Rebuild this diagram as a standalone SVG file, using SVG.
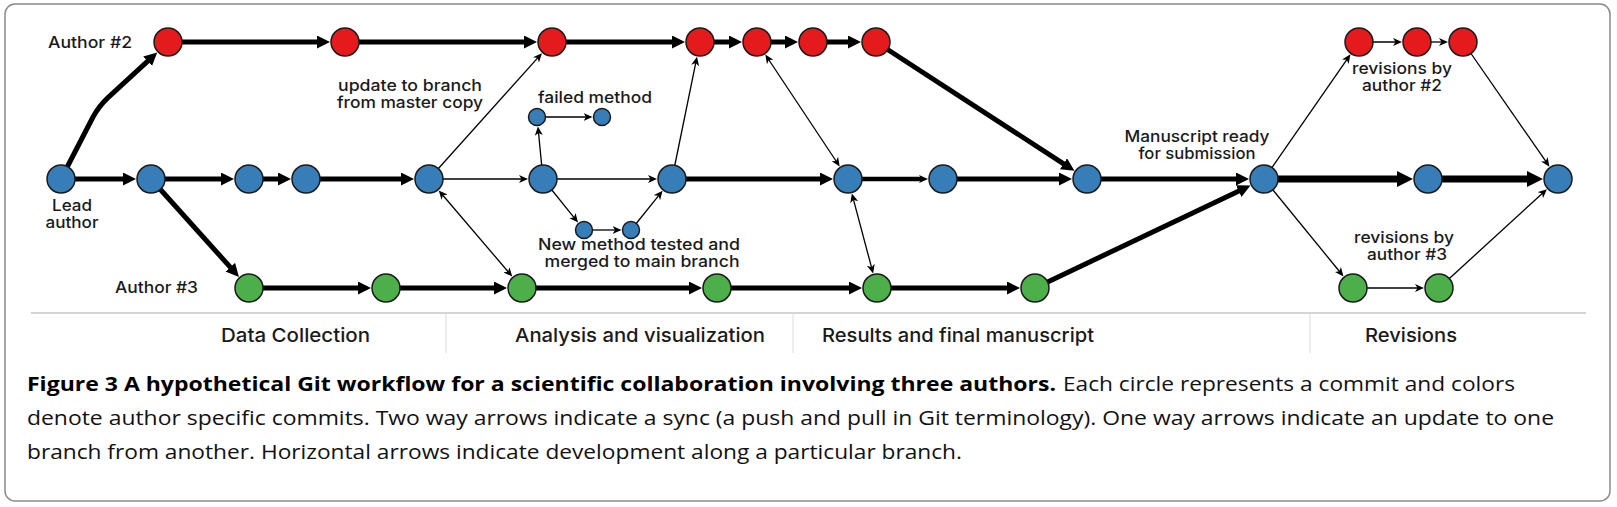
<svg xmlns="http://www.w3.org/2000/svg" width="1617" height="507" viewBox="0 0 1617 507">
<style>
.red{fill:#e41a1c;stroke:#1a1a1a;stroke-width:1.5}
.blue{fill:#377eb8;stroke:#1a1a1a;stroke-width:1.5}
.green{fill:#4daf4a;stroke:#1a1a1a;stroke-width:1.5}
.thick{fill:none;stroke:#000;stroke-width:5;marker-end:url(#ah)}
.xthick{fill:none;stroke:#000;stroke-width:7;marker-end:url(#ahx)}
.thin{fill:none;stroke:#000;stroke-width:1.3;marker-end:url(#at)}
.two{fill:none;stroke:#000;stroke-width:1.3;marker-start:url(#at);marker-end:url(#at)}
.lbl{font-family:Inter,"Liberation Sans",sans-serif;font-weight:500;font-size:16px;fill:#1a1a1a}
.sec{font-family:Inter,"Liberation Sans",sans-serif;font-weight:500;font-size:19px;fill:#1a1a1a;text-anchor:middle}
.cap{font-family:"Open Sans","Liberation Sans",sans-serif;font-size:20px;fill:#111}
.capb{font-family:"Open Sans","Liberation Sans",sans-serif;font-size:20px;font-weight:700;fill:#000}
.mid{text-anchor:middle}
</style>
<defs>
<marker id="ah" viewBox="0 0 13 13" refX="2" refY="6.5" markerWidth="13" markerHeight="13" markerUnits="userSpaceOnUse" orient="auto"><path d="M0,0 L13,6.5 L0,13 z" fill="#000"/></marker>
<marker id="ahx" viewBox="0 0 16 16" refX="2" refY="8" markerWidth="16" markerHeight="16" markerUnits="userSpaceOnUse" orient="auto"><path d="M0,0 L16,8 L0,16 z" fill="#000"/></marker>
<marker id="at" viewBox="0 0 9 8" refX="3" refY="4" markerWidth="9" markerHeight="8" markerUnits="userSpaceOnUse" orient="auto-start-reverse"><path d="M0,0 L9,4 L0,8 L2.5,4 z" fill="#000"/></marker>
</defs>
<rect x="0" y="0" width="1617" height="507" fill="#fff"/>
<rect id="frame" x="5" y="4" width="1605" height="497" rx="10" fill="#fff" stroke="#8a8a8a" stroke-width="1.5"/>

<g id="phases">
<line x1="31" y1="313" x2="1586" y2="313" stroke="#d4d4d4" stroke-width="2"/>
<line x1="446" y1="313" x2="446" y2="353" stroke="#dcdcdc" stroke-width="1"/>
<line x1="793" y1="313" x2="793" y2="353" stroke="#dcdcdc" stroke-width="1"/>
<line x1="1310" y1="313" x2="1310" y2="353" stroke="#dcdcdc" stroke-width="1"/>
<text class="sec" x="295.5" y="342" textLength="149" lengthAdjust="spacingAndGlyphs">Data Collection</text>
<text class="sec" x="640" y="342" textLength="250" lengthAdjust="spacingAndGlyphs">Analysis and visualization</text>
<text class="sec" x="958" y="342" textLength="272" lengthAdjust="spacingAndGlyphs">Results and final manuscript</text>
<text class="sec" x="1411" y="342" textLength="92" lengthAdjust="spacingAndGlyphs">Revisions</text>
</g>

<g id="connectors">
<path class="thick" d="M61,179 L93,117 Q99,106 108,97.6 L149.1,59.85"/>
<path class="thick" d="M168,42 H319"/>
<path class="thick" d="M345,42 H526"/>
<path class="thick" d="M552,42 H674"/>
<path class="thick" d="M700,42 H731"/>
<path class="thick" d="M757,42 H787"/>
<path class="thick" d="M813,42 H850"/>
<path class="thick" d="M876,42 L1065.2,164.8"/>
<path class="thick" d="M61,179 H125"/>
<path class="thick" d="M151,179 H223"/>
<path class="thick" d="M249,179 H280"/>
<path class="thick" d="M306,179 H403"/>
<path class="thick" d="M672,179 H822"/>
<path d="M848,179 H922" fill="none" stroke="#000" stroke-width="4.5" marker-end="url(#at)"/>
<path class="thick" d="M943,179 H1061"/>
<path class="thick" d="M1087,179 H1238"/>
<path class="xthick" d="M1264,179 H1399"/>
<path class="xthick" d="M1428,179 H1529"/>
<path class="thick" d="M151,179 L231.6,268.7"/>
<path class="thick" d="M249,288 H360"/>
<path class="thick" d="M386,288 H496"/>
<path class="thick" d="M522,288 H691"/>
<path class="thick" d="M717,288 H851"/>
<path class="thick" d="M877,288 H1009"/>
<path class="thick" d="M1035,288 L1240.5,190.2"/>
<path class="thin" d="M429,179 H522"/>
<path class="thin" d="M543,179 H651"/>
<path class="thin" d="M537,117 H586.5"/>
<path class="thin" d="M584,230 H615.5"/>
<path class="thin" d="M1359,42 H1396"/>
<path class="thin" d="M1417,42 H1442"/>
<path class="thin" d="M1353,288 H1418"/>
<path class="thin" d="M429,179 L537.97,57.63"/>
<path class="two" d="M442.63,194.97 L508.37,272.03"/>
<path class="thin" d="M543,179 L538.5,132.4"/>
<path class="thin" d="M543,179 L574.3,217.9"/>
<path class="thin" d="M631,230 L658.84,195.37"/>
<path class="thin" d="M672,179 L695.8,62.58"/>
<path class="two" d="M768.62,59.49 L836.38,161.51"/>
<path class="two" d="M853.4,199.3 L871.6,267.7"/>
<path class="thin" d="M1264,179 L1347.03,59.26"/>
<path class="thin" d="M1463,42 L1546.03,161.74"/>
<path class="thin" d="M1264,179 L1339.72,271.73"/>
<path class="thin" d="M1439,288 L1542.52,193.18"/>
</g>

<g id="r1"><circle class="red" cx="168" cy="42" r="14"/></g>
<g id="r2"><circle class="red" cx="345" cy="42" r="14"/></g>
<g id="r3"><circle class="red" cx="552" cy="42" r="14"/></g>
<g id="r4"><circle class="red" cx="700" cy="42" r="14"/></g>
<g id="r5"><circle class="red" cx="757" cy="42" r="14"/></g>
<g id="r6"><circle class="red" cx="813" cy="42" r="14"/></g>
<g id="r7"><circle class="red" cx="876" cy="42" r="14"/></g>
<g id="rr1"><circle class="red" cx="1359" cy="42" r="14"/></g>
<g id="rr2"><circle class="red" cx="1417" cy="42" r="14"/></g>
<g id="rr3"><circle class="red" cx="1463" cy="42" r="14"/></g>

<g id="b1"><circle class="blue" cx="61" cy="179" r="14"/></g>
<g id="b2"><circle class="blue" cx="151" cy="179" r="14"/></g>
<g id="b3"><circle class="blue" cx="249" cy="179" r="14"/></g>
<g id="b4"><circle class="blue" cx="306" cy="179" r="14"/></g>
<g id="b5"><circle class="blue" cx="429" cy="179" r="14"/></g>
<g id="b6"><circle class="blue" cx="543" cy="179" r="14"/></g>
<g id="b7"><circle class="blue" cx="672" cy="179" r="14"/></g>
<g id="b8"><circle class="blue" cx="848" cy="179" r="14"/></g>
<g id="b9"><circle class="blue" cx="943" cy="179" r="14"/></g>
<g id="b10"><circle class="blue" cx="1087" cy="179" r="14"/></g>
<g id="b11"><circle class="blue" cx="1264" cy="179" r="14"/></g>
<g id="b12"><circle class="blue" cx="1428" cy="179" r="14"/></g>
<g id="b13"><circle class="blue" cx="1558" cy="179" r="14"/></g>
<g id="s1"><circle class="blue" cx="537" cy="117" r="8.5"/></g>
<g id="s2"><circle class="blue" cx="602" cy="117" r="8.5"/></g>
<g id="s3"><circle class="blue" cx="584" cy="230" r="8.5"/></g>
<g id="s4"><circle class="blue" cx="631" cy="230" r="8.5"/></g>

<g id="g1"><circle class="green" cx="249" cy="288" r="14"/></g>
<g id="g2"><circle class="green" cx="386" cy="288" r="14"/></g>
<g id="g3"><circle class="green" cx="522" cy="288" r="14"/></g>
<g id="g4"><circle class="green" cx="717" cy="288" r="14"/></g>
<g id="g5"><circle class="green" cx="877" cy="288" r="14"/></g>
<g id="g6"><circle class="green" cx="1035" cy="288" r="14"/></g>
<g id="gr1"><circle class="green" cx="1353" cy="288" r="14"/></g>
<g id="gr2"><circle class="green" cx="1439" cy="288" r="14"/></g>

<g id="labels">
<text class="lbl" x="48" y="48" textLength="84" lengthAdjust="spacingAndGlyphs" font-weight="600">Author #2</text>
<text class="lbl mid" x="72" y="211" textLength="40" lengthAdjust="spacingAndGlyphs">Lead</text>
<text class="lbl mid" x="72" y="228" textLength="53" lengthAdjust="spacingAndGlyphs">author</text>
<text class="lbl" x="115" y="293" textLength="83" lengthAdjust="spacingAndGlyphs" font-weight="600">Author #3</text>
<text class="lbl mid" x="410" y="91" textLength="144" lengthAdjust="spacingAndGlyphs">update to branch</text>
<text class="lbl mid" x="410" y="108" textLength="146" lengthAdjust="spacingAndGlyphs">from master copy</text>
<text class="lbl mid" x="595" y="103" textLength="114" lengthAdjust="spacingAndGlyphs">failed method</text>
<text class="lbl mid" x="639" y="250" textLength="202" lengthAdjust="spacingAndGlyphs">New method tested and</text>
<text class="lbl mid" x="642" y="267" textLength="195" lengthAdjust="spacingAndGlyphs">merged to main branch</text>
<text class="lbl mid" x="1197" y="142" textLength="145" lengthAdjust="spacingAndGlyphs">Manuscript ready</text>
<text class="lbl mid" x="1197" y="159" textLength="117" lengthAdjust="spacingAndGlyphs">for submission</text>
<text class="lbl mid" x="1402" y="74" textLength="100" lengthAdjust="spacingAndGlyphs">revisions by</text>
<text class="lbl mid" x="1402" y="91" textLength="80" lengthAdjust="spacingAndGlyphs">author #2</text>
<text class="lbl mid" x="1404" y="243" textLength="100" lengthAdjust="spacingAndGlyphs">revisions by</text>
<text class="lbl mid" x="1407" y="260" textLength="80" lengthAdjust="spacingAndGlyphs">author #3</text>
</g>

<g id="caption">
<text class="capb" x="27" y="391" textLength="1029" lengthAdjust="spacingAndGlyphs">Figure 3 A hypothetical Git workflow for a scientific collaboration involving three authors.</text>
<text class="cap" x="1063" y="391" textLength="452" lengthAdjust="spacingAndGlyphs">Each circle represents a commit and colors</text>
<text class="cap" x="27" y="425" textLength="1527" lengthAdjust="spacingAndGlyphs">denote author specific commits. Two way arrows indicate a sync (a push and pull in Git terminology). One way arrows indicate an update to one</text>
<text class="cap" x="27" y="459" textLength="935" lengthAdjust="spacingAndGlyphs">branch from another. Horizontal arrows indicate development along a particular branch.</text>
</g>
</svg>
